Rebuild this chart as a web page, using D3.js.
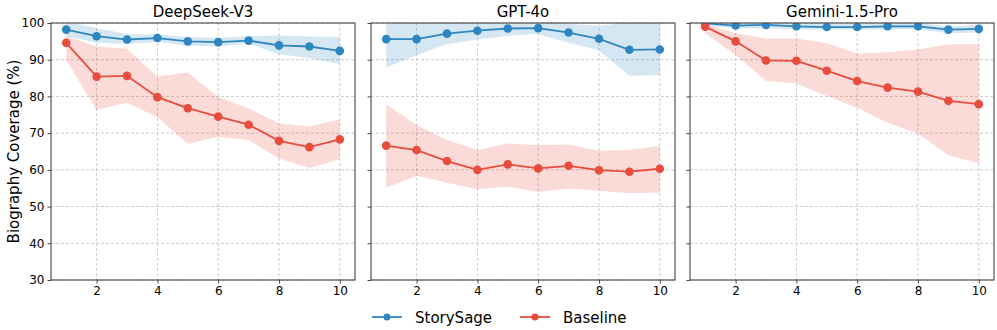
<!DOCTYPE html>
<html><head><meta charset="utf-8">
<script src="https://cdn.jsdelivr.net/npm/d3@7"></script>
<style>body{margin:0;background:#fff;} svg{font-family:"DejaVu Sans",sans-serif;}</style>
</head><body><svg id="c" width="997" height="330"></svg>
<script>
const steps = [1,2,3,4,5,6,7,8,9,10];
const panels = ["DeepSeek-V3","GPT-4o","Gemini-1.5-Pro"];
const seriesNames = ["StorySage","Baseline"];
const yTicks = [30,40,50,60,70,80,90,100];
const xTicks = [2,4,6,8,10];

// DeepSeek-V3
const dsStory    = [98.2,96.4,95.5,95.9,95.0,94.8,95.2,93.9,93.6,92.4];
const dsStoryHi  = [100.5,98.6,97.0,96.9,96.2,96.0,96.4,96.6,96.3,96.2];
const dsStoryLo  = [96.4,94.6,94.3,94.8,93.8,93.6,94.4,91.5,90.5,88.8];
const dsBase     = [94.6,85.4,85.6,79.8,76.8,74.5,72.3,67.9,66.2,68.3];
const dsBaseHi   = [96.5,93.6,93.0,85.4,86.5,79.9,76.7,72.7,71.8,73.8];
const dsBaseLo   = [90.0,76.3,78.3,74.3,67.1,69.0,68.1,63.1,60.5,62.9];
// GPT-4o
const gpStory    = [95.6,95.6,97.1,97.9,98.5,98.6,97.4,95.7,92.7,92.8];
const gpStoryHi  = [103.0,102.0,101.0,100.6,100.5,100.4,99.8,99.2,100.3,100.8];
const gpStoryLo  = [87.9,91.3,94.2,95.5,96.5,97.0,94.6,92.6,85.6,85.8];
const gpBase     = [66.6,65.4,62.4,60.0,61.5,60.4,61.1,59.9,59.5,60.3];
const gpBaseHi   = [77.9,72.2,68.1,65.4,67.2,66.8,66.9,65.2,65.4,66.6];
const gpBaseLo   = [55.1,58.4,56.5,54.7,55.4,54.0,54.9,54.3,53.6,53.8];
// Gemini-1.5-Pro
const gmStory    = [99.9,99.3,99.5,99.1,98.9,98.9,99.1,99.1,98.2,98.4];
const gmStoryHi  = [100.6,100.2,100.4,100.2,99.9,99.9,100.0,100.1,99.0,99.5];
const gmStoryLo  = [99.3,98.5,98.5,98.3,98.2,98.2,98.3,98.3,97.2,97.4];
const gmBase     = [99.0,95.0,89.8,89.7,87.0,84.2,82.4,81.3,78.8,77.9];
const gmBaseHi   = [99.7,97.2,95.8,95.8,94.5,91.7,92.0,92.8,94.2,94.2];
const gmBaseLo   = [97.2,91.3,84.2,83.6,80.1,76.9,72.8,69.9,64.0,61.8];

const data = [
  [{v:dsStory,hi:dsStoryHi,lo:dsStoryLo},{v:dsBase,hi:dsBaseHi,lo:dsBaseLo}],
  [{v:gpStory,hi:gpStoryHi,lo:gpStoryLo},{v:gpBase,hi:gpBaseHi,lo:gpBaseLo}],
  [{v:gmStory,hi:gmStoryHi,lo:gmStoryLo},{v:gmBase,hi:gmBaseHi,lo:gmBaseLo}]
];
const colors = ["#2e86c1","#e74c3c"];

const svg = d3.select("#c");
const lefts = [51,371,690];
const W = 304, plotTop = 23, plotBottom = 280;
const y = d3.scaleLinear().domain([30,100]).range([plotBottom, plotTop]);

panels.forEach((name, pi) => {
  const x = d3.scaleLinear().domain([0.5,10.5]).range([lefts[pi], lefts[pi]+W]);
  const g = svg.append("g");
  const cid = "clip"+pi;
  svg.append("defs").append("clipPath").attr("id",cid)
    .append("rect").attr("x",lefts[pi]).attr("y",plotTop).attr("width",W).attr("height",plotBottom-plotTop);
  // grid
  g.selectAll(".gy").data(yTicks).enter().append("line")
    .attr("x1",lefts[pi]).attr("x2",lefts[pi]+W).attr("y1",d=>y(d)).attr("y2",d=>y(d))
    .attr("stroke","#b0b0b0").attr("stroke-width",0.8).attr("stroke-dasharray","3,2").attr("opacity",0.8);
  g.selectAll(".gx").data(xTicks).enter().append("line")
    .attr("x1",d=>x(d)).attr("x2",d=>x(d)).attr("y1",plotTop).attr("y2",plotBottom)
    .attr("stroke","#b0b0b0").attr("stroke-width",0.8).attr("stroke-dasharray","3,2").attr("opacity",0.8);
  const plot = g.append("g").attr("clip-path",`url(#${cid})`);
  data[pi].forEach((s, si) => {
    const area = d3.area().x((d,i)=>x(steps[i])).y0((d,i)=>y(s.lo[i])).y1((d,i)=>y(s.hi[i]));
    plot.append("path").datum(s.v).attr("d",area).attr("fill",colors[si]).attr("opacity",0.2);
  });
  data[pi].forEach((s, si) => {
    const line = d3.line().x((d,i)=>x(steps[i])).y(d=>y(d));
    plot.append("path").datum(s.v).attr("d",line).attr("fill","none").attr("stroke",colors[si]).attr("stroke-width",1.8);
    plot.selectAll(".pt"+si).data(s.v).enter().append("circle")
      .attr("cx",(d,i)=>x(steps[i])).attr("cy",d=>y(d)).attr("r",4.3).attr("fill",colors[si]);
  });
  // axes
  const xa = g.append("g").attr("transform",`translate(0,${plotBottom})`)
    .call(d3.axisBottom(x).tickValues(xTicks).tickSize(3.5).tickPadding(3));
  const ya = g.append("g").attr("transform",`translate(${lefts[pi]},0)`)
    .call(d3.axisLeft(y).tickValues(yTicks).tickSize(3.5).tickPadding(3).tickFormat(pi===0?d3.format("d"):()=>""));
  [xa,ya].forEach(a=>{
    a.select(".domain").remove();
    a.selectAll("line").attr("stroke","#444").attr("stroke-width",1);
    a.selectAll("text").attr("font-size",12).attr("fill","#000").attr("font-family","DejaVu Sans");
  });
  g.append("rect").attr("x",lefts[pi]).attr("y",plotTop).attr("width",W).attr("height",plotBottom-plotTop)
    .attr("fill","none").attr("stroke","#444").attr("stroke-width",1.1);
  g.append("text").attr("x",lefts[pi]+W/2).attr("y",plotTop-6).attr("text-anchor","middle")
    .attr("font-size",15).text(name);
});

svg.append("text").attr("transform",`translate(19,${(plotTop+plotBottom)/2}) rotate(-90)`)
  .attr("text-anchor","middle").attr("font-size",15).text("Biography Coverage (%)");

// legend
const legX = [372,520];
seriesNames.forEach((n,i)=>{
  const lg = svg.append("g");
  lg.append("line").attr("x1",legX[i]).attr("x2",legX[i]+30).attr("y1",317).attr("y2",317)
    .attr("stroke",colors[i]).attr("stroke-width",1.8);
  lg.append("circle").attr("cx",legX[i]+15).attr("cy",317).attr("r",3.5).attr("fill",colors[i]);
  lg.append("text").attr("x",legX[i]+43).attr("y",322.5).attr("font-size",15).text(n);
});
</script></body></html>
